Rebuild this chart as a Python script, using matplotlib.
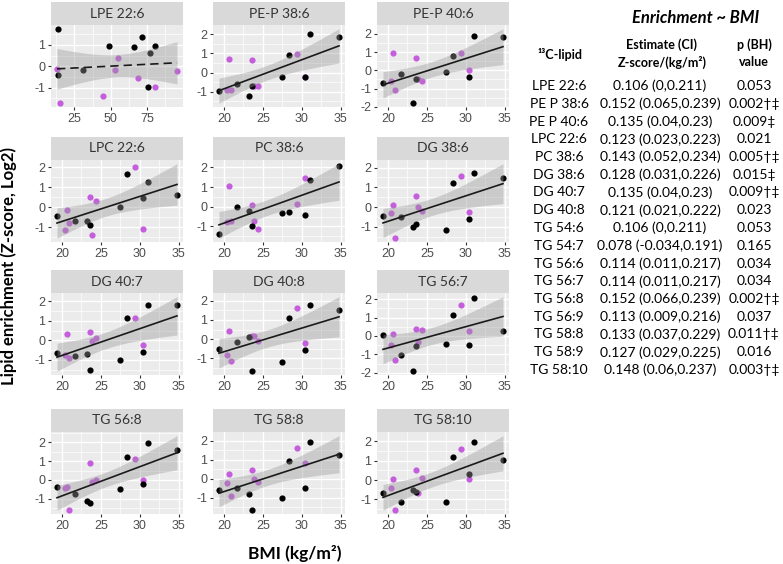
import numpy as np
import matplotlib
matplotlib.use("Agg")
import matplotlib.pyplot as plt
from matplotlib.patches import Rectangle
from matplotlib.ticker import MultipleLocator, FormatStrFormatter

plt.rcParams['axes.unicode_minus'] = False

# ---------------- data ----------------
panel_titles = ["LPE 22:6", "PE-P 38:6", "PE-P 40:6", "LPC 22:6", "PC 38:6", "DG 38:6",
                "DG 40:7", "DG 40:8", "TG 56:7", "TG 56:8", "TG 58:8", "TG 58:10"]

bmi_black = [19.35, 21.7, 23.2, 23.65, 27.45, 28.3, 30.45, 31.1, 34.8]
bmi_purple = [20.4, 20.7, 20.85, 23.6, 23.8, 24.35, 29.35, 30.45]

# LPE 22:6 panel is drawn against a different x variable (10-100 scale)
lpe_x_black = [13.6, 13.6, 31.1, 48.9, 65.9, 71.4, 75.5, 76.8, 80.7]
lpe_x_purple = [13.0, 15.2, 44.8, 52.7, 55.0, 68.9, 80.7, 95.5]

lpe226_black = [1.76, -0.41, -0.17, 0.96, 0.91, 1.39, -0.98, 0.63, 0.96]
lpe226_purple = [-0.11, -1.73, -1.37, -0.16, 0.38, -0.54, -0.98, -0.2]
pep386_black = [-0.95, -0.58, -1.21, -0.72, -0.21, 0.91, -0.21, 2.0, 1.84]
pep386_purple = [-0.9, 0.70, -0.9, 0.63, -0.7, -0.68, 0.95, -0.21]
pep406_black = [-0.70, -0.18, -1.8, -0.50, -0.11, 0.77, -0.39, 1.89, 1.83]
pep406_purple = [-0.6, 0.95, -1.06, 0.70, -0.5, -0.6, 0.95, 0.0]
lpc226_black = [-0.42, -0.67, -0.67, -0.9, 0.03, 1.67, 0.47, 1.28, 0.62]
lpc226_purple = [-1.12, -0.13, -0.8, 0.53, -1.37, 0.33, 2.0, -1.1]
pc386_black = [-1.37, -0.03, -0.24, -0.98, -0.34, -0.29, -0.41, 1.34, 2.08]
pc386_purple = [-0.77, 1.03, -0.75, 0.07, -0.75, -1.11, 0.14, 1.48]
dg386_black = [-0.47, -0.51, -1.02, -0.86, -1.15, 1.24, -0.59, 1.71, 1.49]
dg386_purple = [-0.29, 0.1, -1.58, 0.56, 0.02, -0.2, 1.56, -0.24]
dg407_black = [-0.65, -0.82, -0.69, -1.53, -1.01, 1.15, -0.58, 1.82, 1.82]
dg407_purple = [-0.74, 0.34, -0.93, 0.43, -0.02, 0.14, 1.13, -0.24]
dg408_black = [-0.52, -0.16, 0.09, -1.67, -1.21, 1.09, -0.56, 1.77, 1.51]
dg408_purple = [-0.8, 0.4, -1.15, 0.14, 0.14, -0.09, 1.61, -0.22]
tg567_black = [0.05, -1.04, -1.91, -0.53, -0.44, 1.11, -0.49, 2.07, 0.27]
tg567_purple = [-0.49, 0.09, -1.31, 0.4, -0.3, 0.31, 1.69, 0.27]
tg568_black = [-0.38, -0.77, -1.09, -1.21, -0.5, 1.2, -0.21, 1.96, 1.61]
tg568_purple = [-0.41, -0.38, -1.57, 0.88, -0.11, -0.02, 1.1, 0.0]
tg588_black = [-0.56, -0.47, -0.77, -1.65, -1.03, 0.93, -0.49, 1.94, 1.23]
tg588_purple = [-0.22, 0.26, -0.88, 0.48, 0.0, -0.16, 1.6, 0.84]
tg5810_black = [-0.66, -1.13, -0.54, -0.6, -1.13, 1.2, 0.3, 1.95, 1.03]
tg5810_purple = [-0.4, 0.07, -1.54, 0.51, -0.66, 0.12, 1.61, 0.07]

table_lipids = ["LPE 22:6", "PE P 38:6", "PE P 40:6", "LPC 22:6", "PC 38:6", "DG 38:6",
                "DG 40:7", "DG 40:8", "TG 54:6", "TG 54:7", "TG 56:6", "TG 56:7",
                "TG 56:8", "TG 56:9", "TG 58:8", "TG 58:9", "TG 58:10"]
table_estimates = ["0.106 (0,0.211)", "0.152 (0.065,0.239)", "0.135 (0.04,0.23)",
                   "0.123 (0.023,0.223)", "0.143 (0.052,0.234)", "0.128 (0.031,0.226)",
                   "0.135 (0.04,0.23)", "0.121 (0.021,0.222)", "0.106 (0,0.211)",
                   "0.078 (-0.034,0.191)", "0.114 (0.011,0.217)", "0.114 (0.011,0.217)",
                   "0.152 (0.066,0.239)", "0.113 (0.009,0.216)", "0.133 (0.037,0.229)",
                   "0.127 (0.029,0.225)", "0.148 (0.06,0.237)"]
table_pvalues = ["0.053", "0.002\u2020\u2021", "0.009\u2021", "0.021", "0.005\u2020\u2021",
                 "0.015\u2021", "0.009\u2020\u2021", "0.023", "0.053", "0.165", "0.034",
                 "0.034", "0.002\u2020\u2021", "0.037", "0.011\u2020\u2021", "0.016",
                 "0.003\u2020\u2021"]

panel_series = [
    (lpe_x_black, lpe226_black, lpe_x_purple, lpe226_purple),
    (bmi_black, pep386_black, bmi_purple, pep386_purple),
    (bmi_black, pep406_black, bmi_purple, pep406_purple),
    (bmi_black, lpc226_black, bmi_purple, lpc226_purple),
    (bmi_black, pc386_black, bmi_purple, pc386_purple),
    (bmi_black, dg386_black, bmi_purple, dg386_purple),
    (bmi_black, dg407_black, bmi_purple, dg407_purple),
    (bmi_black, dg408_black, bmi_purple, dg408_purple),
    (bmi_black, tg567_black, bmi_purple, tg567_purple),
    (bmi_black, tg568_black, bmi_purple, tg568_purple),
    (bmi_black, tg588_black, bmi_purple, tg588_purple),
    (bmi_black, tg5810_black, bmi_purple, tg5810_purple),
]
dashed_panels = ["LPE 22:6"]

# ---------------- style ----------------
W, H = 783, 564
PURPLE = "#C45EDC"
PANEL_BG = "#EBEBEB"
STRIP_BG = "#D9D9D9"
T_CRIT = 2.131  # t(0.975, df=15)
FAM = ["Lato", "DejaVu Sans"]

fig = plt.figure(figsize=(W / 100, H / 100), dpi=100)

col_left = [51, 213, 377]
panel_w = 132
row_top = [25, 160, 293, 432]
panel_h = 82
strip_h = 23

for i, (title, (xb, yb, xp, yp)) in enumerate(zip(panel_titles, panel_series)):
    r, c = divmod(i, 3)
    ax = fig.add_axes([col_left[c] / W, 1 - (row_top[r] + panel_h) / H,
                       panel_w / W, panel_h / H])
    ax.set_facecolor(PANEL_BG)
    x = np.array(xb + xp, dtype=float)
    y = np.array(yb + yp, dtype=float)
    n = len(x)
    xm = x.mean()
    sxx = ((x - xm) ** 2).sum()
    slope = ((x - xm) * (y - y.mean())).sum() / sxx
    icpt = y.mean() - slope * xm
    s = np.sqrt(((y - (icpt + slope * x)) ** 2).sum() / (n - 2))
    xg = np.linspace(x.min(), x.max(), 80)
    yg = icpt + slope * xg
    se = s * np.sqrt(1 / n + (xg - xm) ** 2 / sxx)
    lo, hi = yg - T_CRIT * se, yg + T_CRIT * se

    ax.scatter(xp, yp, s=20, color=PURPLE, linewidths=0, zorder=3)
    ax.scatter(xb, yb, s=20, color="black", linewidths=0, zorder=3)
    ax.fill_between(xg, lo, hi, color="#999999", alpha=0.4, lw=0, zorder=4)
    ls = (0, (5, 3)) if title in dashed_panels else "-"
    ax.plot(xg, yg, color="#1A1A1A", lw=1.2, ls=ls, zorder=5)

    xr = x.max() - x.min()
    ax.set_xlim(x.min() - 0.05 * xr, x.max() + 0.05 * xr)
    ymin = min(y.min(), lo.min())
    ymax = max(y.max(), hi.max())
    yr = ymax - ymin
    ax.set_ylim(ymin - 0.05 * yr, ymax + 0.05 * yr)

    xstep = 25 if title == "LPE 22:6" else 5
    ax.xaxis.set_major_locator(MultipleLocator(xstep))
    ax.xaxis.set_minor_locator(MultipleLocator(xstep / 2))
    ax.yaxis.set_major_locator(MultipleLocator(1))
    ax.yaxis.set_minor_locator(MultipleLocator(0.5))
    ax.xaxis.set_major_formatter(FormatStrFormatter("%d"))
    ax.yaxis.set_major_formatter(FormatStrFormatter("%d"))
    ax.grid(which="major", color="white", lw=1.0, zorder=0)
    ax.grid(which="minor", color="white", lw=0.5, zorder=0)
    ax.set_axisbelow(True)
    for sp in ax.spines.values():
        sp.set_visible(False)
    ax.tick_params(which="major", length=2.5, width=0.8, color="#333333",
                   labelsize=9, labelcolor="#4D4D4D", pad=1.5)
    ax.tick_params(which="minor", length=0)
    for lab in ax.get_xticklabels() + ax.get_yticklabels():
        lab.set_family(["Liberation Sans", "DejaVu Sans"])

    sh = strip_h / panel_h
    ax.add_patch(Rectangle((0, 1), 1, sh, transform=ax.transAxes,
                           facecolor=STRIP_BG, edgecolor="none", clip_on=False))
    ax.text(0.5, 1 + sh / 2, title, transform=ax.transAxes, ha="center",
            va="center", fontsize=10, color="#333333", family=FAM)

# axis titles
fig.text(9 / W, 1 - 266 / H, "Lipid enrichment (Z-score, Log2)", rotation=90,
         ha="center", va="center", fontsize=12, fontweight="bold", family=FAM)
fig.text(295 / W, 1 - 554 / H, "BMI (kg/m\u00b2)", ha="center", va="center",
         fontsize=12.5, fontweight="bold", family=FAM)

# table
fig.text(696 / W, 1 - 18 / H, "Enrichment ~ BMI", ha="center", va="center",
         fontsize=12, fontweight="bold", style="italic", family=FAM)
fig.text(560 / W, 1 - 55 / H, "\u00b9\u00b3C-lipid", ha="center", va="center",
         fontsize=9, fontweight="bold", family=FAM)
fig.text(662 / W, 1 - 45 / H, "Estimate (CI)", ha="center", va="center",
         fontsize=9, fontweight="bold", family=FAM)
fig.text(662 / W, 1 - 62 / H, "Z-score/(kg/m\u00b2)", ha="center", va="center",
         fontsize=9, fontweight="bold", family=FAM)
fig.text(754 / W, 1 - 45 / H, "p (BH)", ha="center", va="center",
         fontsize=9, fontweight="bold", family=FAM)
fig.text(754 / W, 1 - 62 / H, "value", ha="center", va="center",
         fontsize=9, fontweight="bold", family=FAM)

row0, row_step = 86, 17.75
for k, (lip, est, pv) in enumerate(zip(table_lipids, table_estimates, table_pvalues)):
    yy = 1 - (row0 + k * row_step) / H
    fig.text(559 / W, yy, lip, ha="center", va="center", fontsize=10, family=FAM)
    fig.text(660 / W, yy, est, ha="center", va="center", fontsize=10, family=FAM)
    fig.text(754 / W, yy, pv, ha="center", va="center", fontsize=10, family=FAM)

fig.savefig("out.png", dpi=100, facecolor="white")
